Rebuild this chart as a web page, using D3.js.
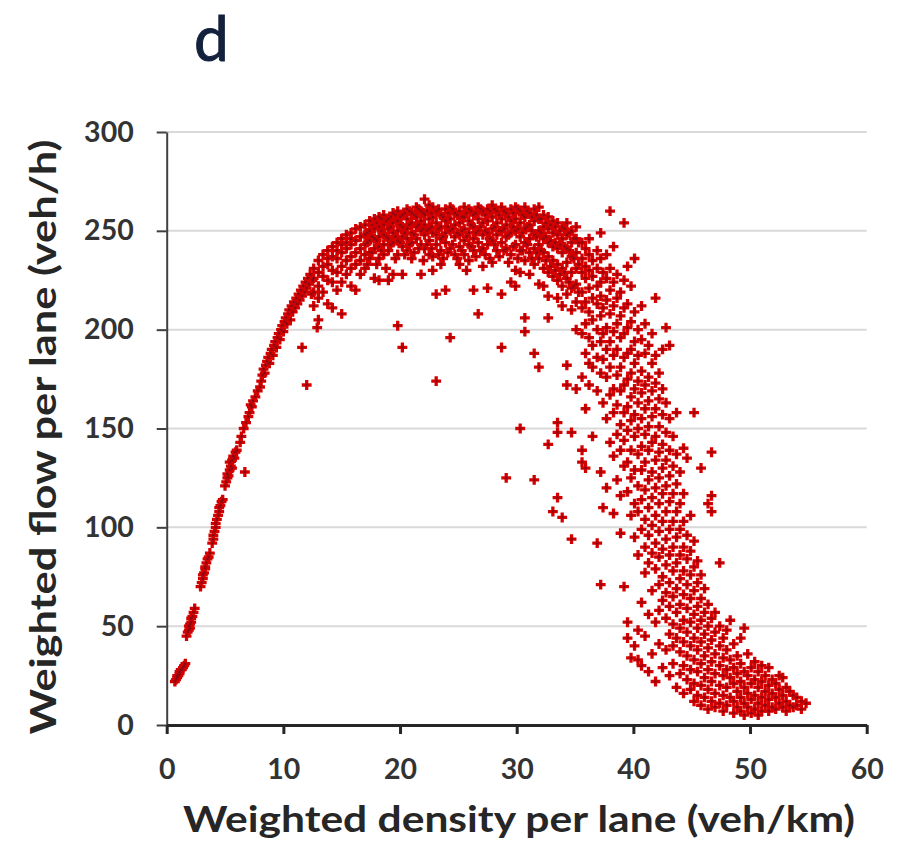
<!DOCTYPE html>
<html>
<head>
<meta charset="utf-8">
<script src="https://cdn.jsdelivr.net/npm/d3@7"></script>
<style>
  html, body { margin: 0; padding: 0; background: #fff; }
  svg { display: block; font-family: Lato, "Open Sans", sans-serif; }
</style>
</head>
<body>
<div id="chart"></div>
<script>
// ---- data ---------------------------------------------------------------
const panelLabel = 'd';
const xLabel = 'Weighted density per lane (veh/km)';
const yLabel = 'Weighted flow per lane (veh/h)';
const xTicks = [0, 10, 20, 30, 40, 50, 60];
const yTicks = [0, 50, 100, 150, 200, 250, 300];

// free-flow branch: [density, flow]
const freeFlow = [
  [0.7,22],[0.8,23],[0.9,24],[0.9,25],[1.0,25],[1.1,26],[1.1,27],[1.2,28],[1.3,28],[1.4,29],[1.5,30],[1.6,31],
  [1.7,45],[1.8,47],[1.9,48],[1.9,50],[2.0,49],[2.0,51],[2.1,52],[2.1,54],[2.2,55],[2.3,57],[2.4,59],
  [2.9,70],[3.0,72],[3.1,74],[3.1,76],[3.2,77],[3.3,79],[3.3,80],[3.4,82],[3.5,84],[3.6,85],[3.7,87],
  [3.9,92],[4.0,94],[4.0,96],[4.1,98],[4.2,100],[4.2,102],[4.3,104],[4.4,106],[4.5,108],[4.5,110],[4.6,111],[4.7,113],[4.8,114],
  [5.0,121],[5.1,123],[5.2,125],[5.2,127],[5.3,126],[5.4,129],[5.5,131],[5.4,133],[5.6,134],[5.7,136],[5.8,135],[5.9,138],[6.0,139],[5.6,130],[6.7,128],
  [6.3,143],[6.4,146],[6.6,150],[6.8,153],[7.0,156],[7.1,158],[7.2,162],[7.3,161],[7.4,164],[7.6,166],[7.8,169],[8.0,171],
  [8.1,174],[8.2,177],[8.3,180],[8.4,178],[8.5,182],[8.6,184],[8.7,186],[8.8,183],[8.9,188],[9.0,190],[9.1,187],[9.2,192],
  [9.3,194],[9.4,191],[9.5,196],[9.6,198],[9.7,195],[9.8,200],[9.9,202],[10.0,199],[10.1,204],[10.2,206],[10.3,203],
  [10.4,208],[10.5,210],[10.6,205],[10.7,212],[10.8,209],[10.9,214],[11.0,211],[11.1,216],[11.2,213],[11.3,218],[11.4,215],
  [11.5,220],[11.6,217],[11.7,222],[11.8,219],[11.9,224],[12.0,221],[12.1,226],[12.2,223],[12.3,228],[12.4,218],[12.5,225],
  [11.6,191],[12.0,172],[12.9,201]
];

// peak part: [density, [flows seen at that density]]
const peak = [
  [12.6,[226,219,231,212]], [13.0,[229,222,235,216,205]], [13.4,[238,227,232,219]], [13.8,[240,233,225,236,213]],
  [14.2,[242,230,237,224,211]], [14.6,[244,236,229,240,220]], [15.0,[246,239,232,224,243,208]], [15.4,[248,241,235,228,244]],
  [15.8,[249,243,237,231,222,246]], [16.2,[251,245,239,233,220]], [16.6,[252,247,241,235,228]], [17.0,[253,248,243,238,231]],
  [17.4,[255,250,245,239,236]], [17.8,[256,251,246,241,226]], [18.2,[257,252,247,242,225,236]], [18.6,[258,253,248,243,238]],
  [19.0,[256,251,246,240,225]], [19.4,[259,254,249,244,228]], [19.8,[260,255,250,245,202,238]], [20.2,[258,252,247,242,228,191]],
  [20.6,[261,256,251,246,240]], [21.0,[259,254,249,244,236]], [21.4,[262,257,252,246]], [21.8,[260,255,250,243,228]],
  [22.1,[266,258,253,248,241]], [22.5,[263,256,251,245,238]], [22.8,[262,257,249,230,237]], [23.1,[260,254,248,243,218,174]],
  [23.5,[258,252,246,240,233]], [23.9,[261,255,249,244,220]], [24.3,[262,256,250,241,196]], [24.7,[259,253,247,238]],
  [25.1,[260,254,248,242,233]], [25.5,[262,257,251,245,238]], [25.9,[261,255,249,243,235]], [26.3,[258,252,246,240,220]],
  [26.7,[262,256,250,244,208]], [27.1,[260,254,248,241,232]], [27.5,[261,255,249,243,221]], [27.9,[263,257,251,245,234]],
  [28.3,[260,254,248,240]], [28.7,[262,256,250,244,218,191]], [29.1,[259,253,247,241,125]], [29.5,[261,255,249,238,224]],
  [29.9,[262,256,250,243,230,222]], [30.3,[260,254,247,240,229,150]], [30.7,[262,257,251,244,235,206,199]], [31.1,[259,253,246,239,228]],
  [31.5,[261,255,248,241,233,188,124]], [31.9,[262,256,250,243,236,223,181]], [32.3,[258,252,246,239,231,222]],
  [32.7,[257,251,244,237,229,217,206,142]], [33.1,[255,249,242,235,227,108]], [33.5,[254,248,241,233,225,216,153,148,115]],
  [33.9,[252,246,239,231,222,212,105]], [34.3,[254,248,241,234,226,218,182,172]], [34.7,[250,244,237,229,221,210,148,94]],
  [35.1,[252,246,239,231,223,214,200,170]],
  // second pass over the crowded top band
  [17.2,[249,244,233]], [17.6,[253,247,239]], [18.0,[254,245,233]], [18.4,[256,250,240]], [18.8,[255,247,231]],
  [19.2,[257,252,243]], [19.6,[258,247,236]], [20.0,[257,253,244]], [20.4,[259,249,238]], [20.8,[260,253,243]],
  [21.2,[258,248,239]], [21.6,[261,253,241]], [22.0,[259,251,235]], [22.3,[260,250,243]], [22.7,[259,252,241]],
  [23.3,[261,251,238]], [23.7,[257,247,236]], [24.1,[259,252,239]], [24.5,[261,251,243]], [24.9,[258,249,236]],
  [25.3,[257,250,240]], [25.7,[259,247,230]], [26.1,[260,253,242]], [26.5,[259,249,237]], [26.9,[261,252,240]],
  [27.3,[258,250,238]], [27.7,[260,246,236]], [28.1,[261,252,243]], [28.5,[258,250,237]], [28.9,[260,251,240]],
  [29.3,[257,248,234]], [29.7,[259,252,242]], [30.1,[261,251,236]], [30.5,[258,249,240]], [30.9,[260,252,243]],
  [31.3,[257,250,236]], [31.7,[258,247,239]], [32.1,[256,249,240]], [32.5,[254,247,235]], [32.9,[253,245,232]],
  [33.3,[252,244,230]], [33.7,[250,243,228]], [34.1,[251,242,229]], [34.5,[249,240,224]], [34.9,[246,236,222]],
  [35.3,[244,233,219]]
];

// congested branch: [density, [flows seen at that density]]
const congested = [
  [35.6,[244,236,229,219,211,198,176,139,133]], [35.9,[241,232,226,214,203,188,160,130]],
  [36.2,[246,238,230,221,209,196,183,172]], [36.5,[235,227,216,205,192,181,146]],
  [36.9,[240,231,222,213,200,186,169,92]], [37.2,[249,236,224,217,207,194,178,128,71]],
  [37.4,[229,211,198,185,163,110]], [37.7,[238,226,215,201,190,176,155,120]],
  [38.0,[260,231,220,208,194,181,167,143]], [38.3,[242,224,212,199,187,170,158,136,107]],
  [38.6,[228,216,203,190,177,162,147,124]], [38.9,[219,207,196,181,169,152,139,116,97]],
  [39.2,[254,225,211,198,186,172,158,144,131,70]], [39.5,[232,213,201,188,175,161,149,133,118,52,44]],
  [39.8,[222,204,190,178,166,154,139,125,106,34]], [40.1,[236,209,194,183,170,157,146,129,112,95,40]],
  [40.4,[200,187,174,163,150,137,121,108,86,48,33]], [40.7,[212,195,179,168,155,141,129,114,99,62,30]],
  [41.0,[203,188,172,160,147,133,119,104,90,77,45]], [41.3,[192,176,164,151,139,124,110,96,82,56,27]],
  [41.6,[198,183,169,156,143,128,115,101,87,68,36]], [41.9,[216,187,173,160,146,134,120,106,92,79,52,22]],
  [42.2,[178,165,151,138,125,112,98,85,71,58,41]], [42.5,[190,170,157,142,130,117,103,89,75,63,29]],
  [42.8,[201,163,148,134,121,108,94,81,67,54,38]], [43.1,[192,155,139,126,113,99,86,72,60,46,25]],
  [43.4,[146,131,117,103,90,78,65,51,40,31]], [43.7,[158,137,122,108,95,82,69,57,44,19]],
  [44.0,[128,112,99,86,74,61,49,37,26]], [44.3,[140,117,103,90,78,66,53,42,30,16]],
  [44.6,[135,96,84,71,59,47,35,23]], [44.9,[106,88,76,64,52,40,28,18]],
  [45.2,[158,93,80,68,56,44,33,21,12]], [45.5,[83,72,60,49,38,27,15]],
  [45.8,[130,76,64,53,42,31,20,10]], [46.1,[69,57,46,35,24,14]],
  [46.4,[112,61,50,39,28,18,8]], [46.7,[138,116,108,54,43,32,22,12]],
  [47.0,[57,47,36,26,16,9]], [47.4,[82,50,40,30,20,11]], [47.7,[44,34,25,15,7]],
  [48.0,[48,38,28,19,10]], [48.3,[53,33,24,14]], [48.6,[41,29,21,12,6]], [48.9,[35,26,17,9]],
  [49.2,[44,31,22,14,7]], [49.5,[49,27,19,11,5]], [49.8,[36,25,16,9]], [50.1,[29,21,13,6]],
  [50.4,[32,23,15,8]], [50.7,[27,19,11,5]], [51.0,[30,22,14,7]], [51.3,[25,17,10]],
  [51.6,[29,20,13,7]], [51.9,[23,16,9]], [52.2,[21,14,8]], [52.5,[25,18,11]], [52.8,[24,15,9]],
  [53.1,[19,12,7]], [53.4,[17,10]], [53.7,[15,9]], [54.0,[14,10]], [54.4,[12,8]], [54.8,[11]]
];

const points = freeFlow.concat(
  peak.concat(congested).flatMap(([d, qs]) => qs.map(q => [d, q]))
);

// ---- layout ---------------------------------------------------------------
const width = 901, height = 846;
const margin = { top: 132, right: 34.3, bottom: 121, left: 166.7 };

const svg = d3.select('#chart').append('svg')
  .attr('width', width)
  .attr('height', height);

const x = d3.scaleLinear().domain([0, 60]).range([margin.left, width - margin.right]);
const y = d3.scaleLinear().domain([0, 300]).range([height - margin.bottom, margin.top]);

// gridlines
svg.append('g')
  .selectAll('line')
  .data(yTicks.filter(t => t > 0))
  .join('line')
  .attr('x1', x(0)).attr('x2', x(60))
  .attr('y1', d => y(d)).attr('y2', d => y(d))
  .attr('stroke', '#d9d9d9')
  .attr('stroke-width', 2);

// y axis
svg.append('g')
  .attr('transform', `translate(${x(0)},0)`)
  .call(d3.axisLeft(y).tickValues(yTicks).tickSizeInner(10).tickSizeOuter(0).tickPadding(23))
  .call(g => g.select('.domain').attr('stroke', '#404040').attr('stroke-width', 2))
  .call(g => g.selectAll('.tick line').attr('stroke', '#404040').attr('stroke-width', 2))
  .call(g => g.selectAll('.tick text')
    .attr('fill', '#333')
    .style('font-family', 'Lato, sans-serif')
    .style('font-size', '28.5px')
    .style('font-weight', 700));

// x axis
svg.append('g')
  .attr('transform', `translate(0,${y(0)})`)
  .call(d3.axisBottom(x).tickValues(xTicks).tickSizeInner(9).tickSizeOuter(0).tickPadding(25))
  .call(g => g.select('.domain').attr('stroke', '#262626').attr('stroke-width', 3))
  .call(g => g.selectAll('.tick line').attr('stroke', '#262626').attr('stroke-width', 3))
  .call(g => g.selectAll('.tick text')
    .attr('fill', '#333')
    .style('font-family', 'Lato, sans-serif')
    .style('font-size', '28.5px')
    .style('font-weight', 700));

// points: small red crosses with a dark core
const marks = svg.append('g');
const cross = d3.symbol().type(d3.symbolCross).size(54);
marks.selectAll('path')
  .data(points)
  .join('path')
  .attr('transform', d => `translate(${x(d[0])},${y(d[1])})`)
  .attr('d', cross)
  .attr('fill', '#d40000');
marks.selectAll('circle')
  .data(points)
  .join('circle')
  .attr('cx', d => x(d[0]))
  .attr('cy', d => y(d[1]))
  .attr('r', 1.4)
  .attr('fill', '#8a0a14');

// axis titles
svg.append('text')
  .attr('x', 519).attr('y', 832)
  .attr('text-anchor', 'middle')
  .attr('fill', '#262626')
  .attr('textLength', 672)
  .attr('lengthAdjust', 'spacingAndGlyphs')
  .style('font-size', '36px')
  .style('font-weight', 700)
  .text(xLabel);

svg.append('text')
  .attr('transform', 'translate(56,437) rotate(-90)')
  .attr('text-anchor', 'middle')
  .attr('fill', '#262626')
  .attr('textLength', 595)
  .attr('lengthAdjust', 'spacingAndGlyphs')
  .style('font-size', '36px')
  .style('font-weight', 700)
  .text(yLabel);

// panel letter (slightly stroked to match the heavier original glyph)
svg.append('text')
  .attr('x', 194).attr('y', 61)
  .attr('fill', '#14213d')
  .attr('stroke', '#14213d')
  .attr('stroke-width', 1)
  .style('font-size', '62px')
  .text(panelLabel);
</script>
</body>
</html>
